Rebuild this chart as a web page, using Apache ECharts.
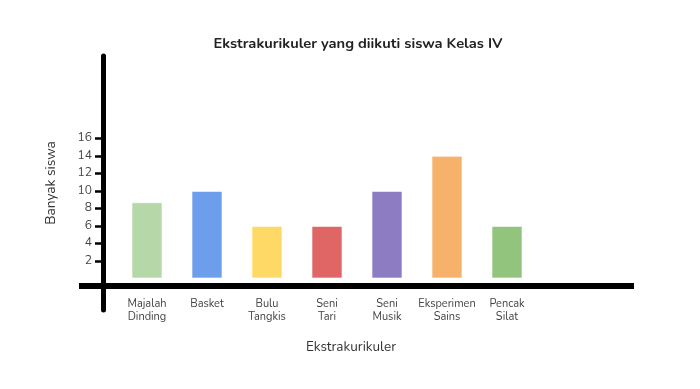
<!DOCTYPE html>
<html>
<head>
<meta charset="utf-8">
<script src="https://cdn.jsdelivr.net/npm/echarts@6/dist/echarts.min.js"></script>
<style>html,body{margin:0;padding:0;background:#fff}#c{width:700px;height:389px}</style>
</head>
<body>
<div id="c"></div>
<script>
const categories = ['Majalah\nDinding', 'Basket', 'Bulu\nTangkis', 'Seni\nTari', 'Seni\nMusik', 'Eksperimen\nSains', 'Pencak\nSilat'];
const values = [8.7, 10, 6, 6, 10, 14, 6];
const barColors = ['#b6d7a8', '#6d9eeb', '#ffd966', '#e06666', '#8e7cc3', '#f6b26b', '#93c47d'];
const yTicks = [2, 4, 6, 8, 10, 12, 14, 16];

const font = 'Nunito, Lato, "Noto Sans", sans-serif';
const chart = echarts.init(document.getElementById('c'));
chart.setOption({
  animation: false,
  backgroundColor: '#fff',
  title: {
    text: 'Ekstrakurikuler yang diikuti siswa Kelas IV',
    left: 353, top: 32, textAlign: 'center',
    textStyle: { fontSize: 14.7, fontWeight: 'bold', color: '#222', fontFamily: font }
  },
  grid: { left: 117, width: 420, top: 56, bottom: 79, outerBoundsMode: 'none', containLabel: false },
  xAxis: {
    type: 'category',
    data: categories,
    axisLine: { show: false },
    axisTick: { show: false },
    axisLabel: { margin: -12, fontSize: 11, lineHeight: 13, color: '#444', fontFamily: font, interval: 0 },
    name: 'Ekstrakurikuler',
    nameLocation: 'middle',
    nameGap: 31,
    nameTextStyle: { fontSize: 13.5, color: '#333', fontFamily: font, padding: [0, 0, 0, 48] }
  },
  yAxis: {
    type: 'value',
    min: -3.6, max: 25.4,
    offset: 14,
    splitLine: { show: false },
    axisLine: { show: true, lineStyle: { color: '#000', width: 5 } },
    axisTick: { show: true, length: 8, lineStyle: { color: '#000', width: 2.5 }, customValues: yTicks },
    axisLabel: { margin: 11, fontSize: 12, color: '#444', fontFamily: font, customValues: yTicks },
    name: 'Banyak siswa',
    nameLocation: 'middle',
    nameGap: 44,
    nameTextStyle: { fontSize: 13.7, color: '#333', fontFamily: font }
  },
  series: [{
    type: 'bar',
    data: values.map((v, i) => ({ value: v, itemStyle: { color: barColors[i] } })),
    barWidth: 31,
    itemStyle: { borderColor: 'rgba(255,255,255,0.6)', borderWidth: 1 }
  }],
  graphic: [{
    type: 'rect',
    shape: { x: 79, y: 283, width: 555, height: 6 },
    style: { fill: '#000' },
    z: 10
  }]
});
</script>
</body>
</html>
